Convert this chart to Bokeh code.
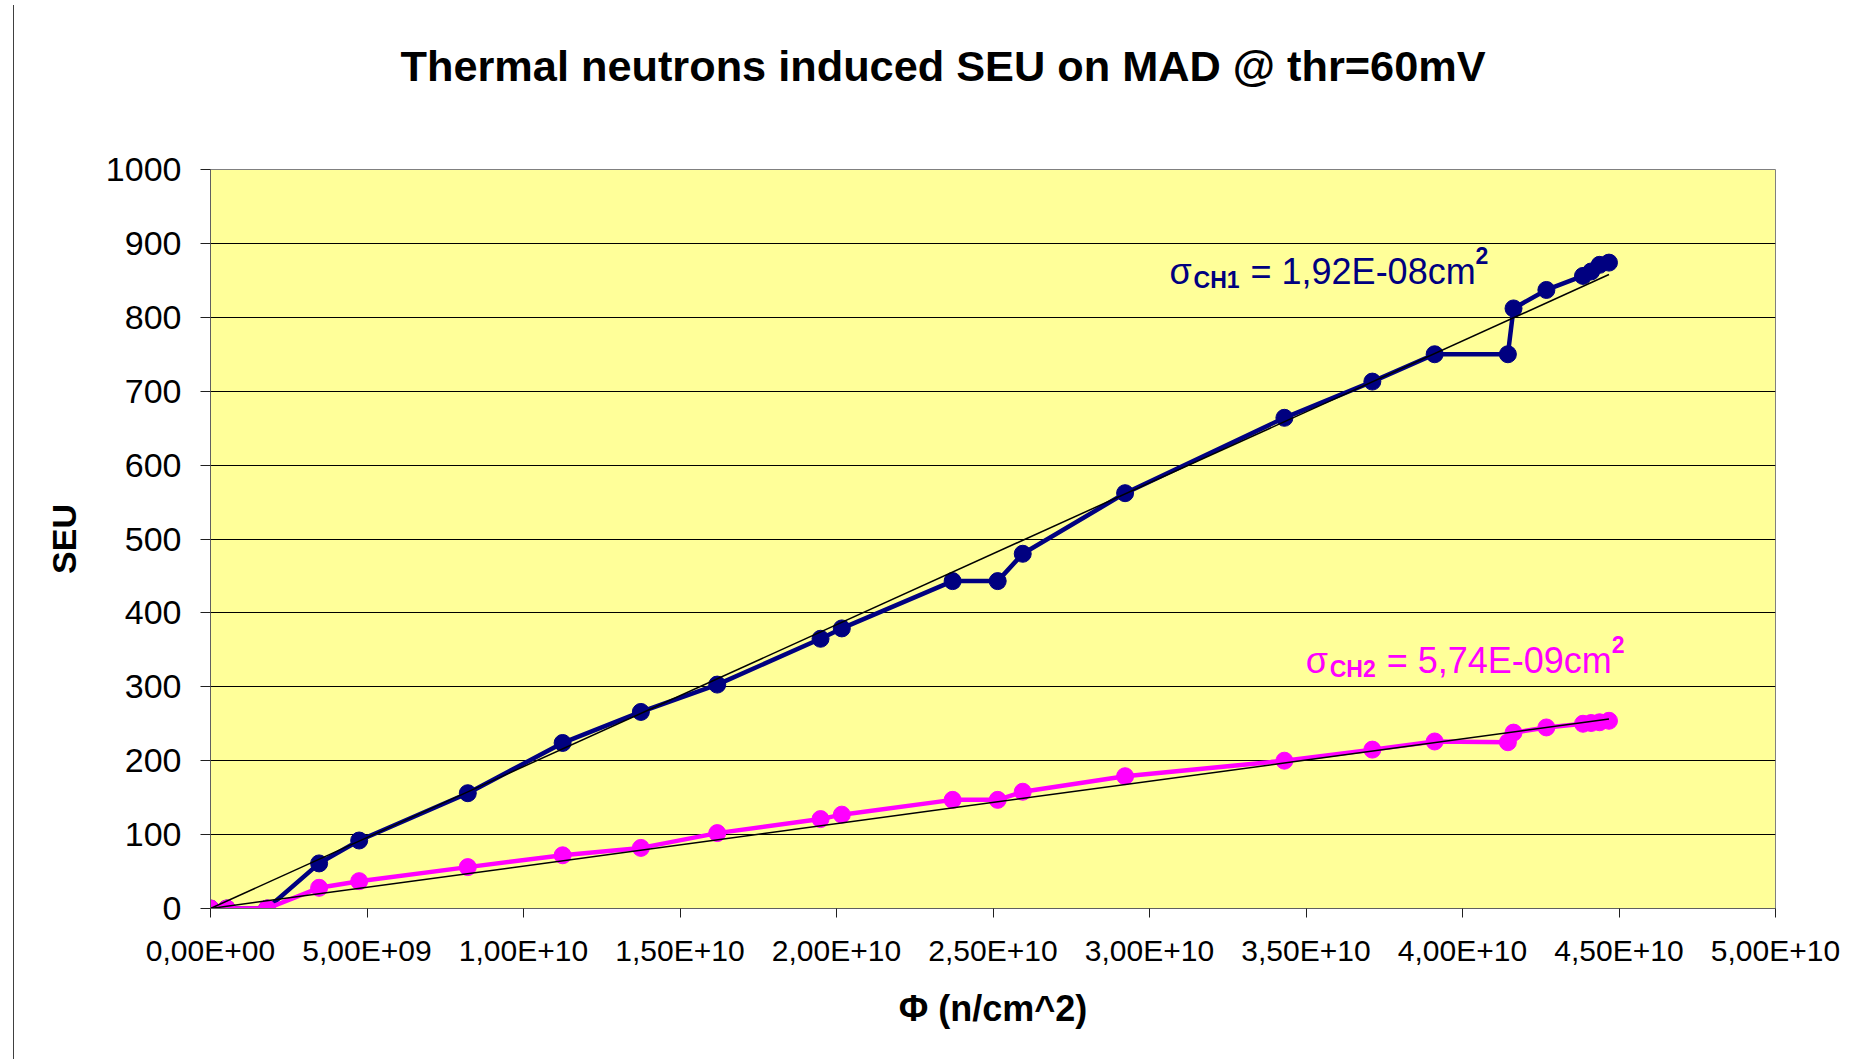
from bokeh.plotting import figure
from bokeh.models import FixedTicker, Label, Range1d, Div, Title
from bokeh.layouts import row
from bokeh.embed import file_html
from bokeh.resources import INLINE

# ---------------- data ----------------
flux = [0.0, 0.052e10, 0.181e10, 0.347e10, 0.475e10, 0.822e10, 1.125e10, 1.375e10,
        1.619e10, 1.949e10, 2.017e10, 2.371e10, 2.515e10, 2.595e10, 2.922e10,
        3.431e10, 3.712e10, 3.911e10, 4.145e10, 4.163e10, 4.268e10, 4.385e10,
        4.411e10, 4.438e10, 4.468e10]
seu_ch1 = [0, 0, 0, 61, 92, 156, 224, 266, 303, 365, 379, 443, 443, 480, 562,
           664, 713, 750, 750, 812, 837, 856, 862, 871, 874]
seu_ch2 = [0, 0, 0, 28, 37, 56, 72, 82, 102, 121, 127, 147, 147, 158, 179,
           200, 215, 226, 225, 238, 245, 250, 251, 252, 254]
sigma_ch1 = 1.92e-08   # fitted slope (cross-section), cm^2
sigma_ch2 = 5.74e-09

x_ticks = [0, 5e9, 1e10, 1.5e10, 2e10, 2.5e10, 3e10, 3.5e10, 4e10, 4.5e10, 5e10]
x_tick_labels = ["0,00E+00", "5,00E+09", "1,00E+10", "1,50E+10", "2,00E+10",
                 "2,50E+10", "3,00E+10", "3,50E+10", "4,00E+10", "4,50E+10",
                 "5,00E+10"]
y_ticks = [0, 100, 200, 300, 400, 500, 600, 700, 800, 900, 1000]

title_text = "Thermal neutrons induced SEU on MAD @ thr=60mV"
xlabel_text = "Φ (n/cm^2)"
ylabel_text = "SEU"
ann1 = ["σ", "CH1", "= 1,92E-08cm", "2"]
ann2 = ["σ", "CH2", "= 5,74E-09cm", "2"]

FONT = "Liberation Sans"
BLUE = "#000080"
PINK = "#FF00FF"

p = figure(frame_width=1565, frame_height=739,
           x_range=Range1d(0, 5e10), y_range=Range1d(0, 1000),
           output_backend="svg", toolbar_location=None,
           min_border_left=191, min_border_top=169,
           min_border_right=80, min_border_bottom=146,
           background_fill_color="#FFFF99", border_fill_color="white",
           outline_line_color="#808080", outline_line_width=1)

# title: spacer panel next to the frame, then the real title above it
p.add_layout(Title(text=" ", text_font_size="10px", standoff=55), "above")
p.add_layout(Title(text=title_text, text_font=FONT, text_font_size="43.3px",
                   text_font_style="bold", text_color="black", align="left",
                   offset=190, vertical_align="top", standoff=20), "above")

# axes
p.xaxis.ticker = FixedTicker(ticks=x_ticks)
p.xaxis.major_label_overrides = {t: s for t, s in zip(x_ticks, x_tick_labels)}
p.yaxis.ticker = FixedTicker(ticks=y_ticks)
for ax in (p.xaxis, p.yaxis):
    ax.axis_line_color = "#606060"
    ax.major_tick_line_color = "#202020"
    ax.major_tick_in = 0
    ax.minor_tick_in = 0
    ax.minor_tick_out = 0
    ax.major_label_text_font = FONT
    ax.major_label_text_color = "black"
    ax.axis_label_text_font = FONT
    ax.axis_label_text_font_style = "bold"
    ax.axis_label_text_color = "black"
p.xaxis.major_tick_out = 9
p.yaxis.major_tick_out = 10
p.xaxis.major_label_text_font_size = "30px"
p.yaxis.major_label_text_font_size = "34px"
p.xaxis.major_label_standoff = 16
p.yaxis.major_label_standoff = 19
p.xaxis.axis_label = xlabel_text
p.xaxis.axis_label_text_font_size = "36px"
p.xaxis.axis_label_standoff = 18
p.yaxis.axis_label = ylabel_text
p.yaxis.axis_label_text_font_size = "34px"
p.yaxis.axis_label_standoff = 20

p.xgrid.visible = False
p.ygrid.grid_line_color = "black"
p.ygrid.grid_line_width = 1

# series
p.line(flux, seu_ch1, line_color=BLUE, line_width=4.5)
p.scatter(flux, seu_ch1, size=17, fill_color=BLUE, line_color=BLUE)
p.line(flux, seu_ch2, line_color=PINK, line_width=4.5)
p.scatter(flux, seu_ch2, size=17, fill_color=PINK, line_color=PINK)

# linear trend lines through the origin (slope = stated cross-section)
fmax = max(flux)
p.line([0, fmax], [0, sigma_ch1 * fmax], line_color="black", line_width=1.5)
p.line([0, fmax], [0, sigma_ch2 * fmax], line_color="black", line_width=1.5)

# annotations sigma = ...
def add_annotation(parts, x, y, color):
    specs = [(0, 12, "36px", "normal"), (24, 4, "23px", "bold"),
             (81, 12, "36px", "normal"), (306, 28, "23px", "bold")]
    for txt, (dx, dy, fs, st) in zip(parts, specs):
        p.add_layout(Label(x=x, y=y, x_offset=dx, y_offset=dy, text=txt,
                           text_font=FONT, text_font_size=fs, text_font_style=st,
                           text_color=color, text_align="left",
                           text_baseline="alphabetic"))

add_annotation(ann1, 3.064e10, 845.2, BLUE)
add_annotation(ann2, 3.499e10, 319.3, PINK)

# thin vertical chart-area border line on the left
edge = Div(text="", width=9, height=1054,
           styles={"border-right": "1px solid #404040", "box-sizing": "border-box"})

layout = row(edge, p)
open("out.html", "w").write(file_html(layout, INLINE))
